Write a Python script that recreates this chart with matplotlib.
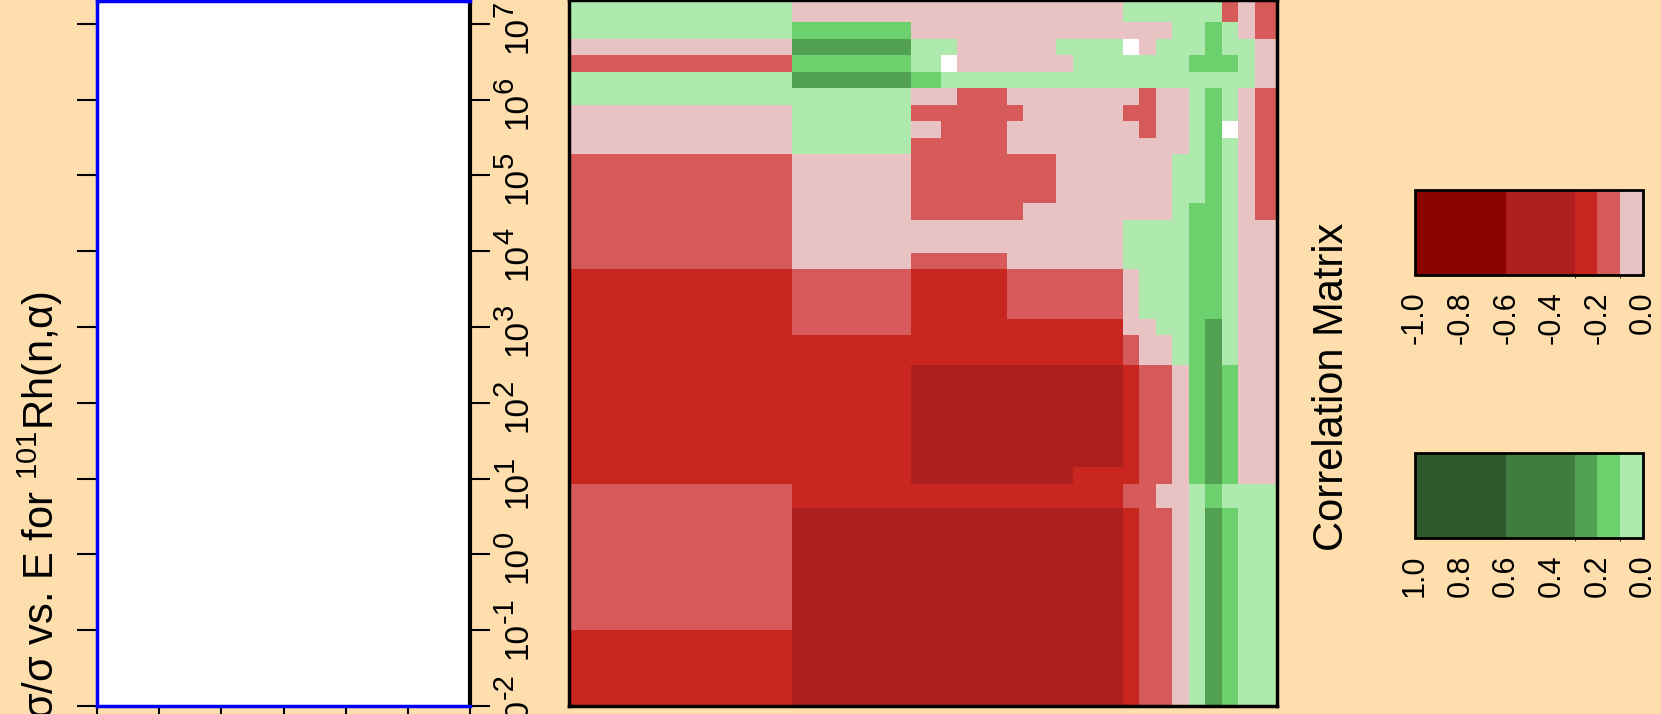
import numpy as np
import matplotlib.pyplot as plt
from matplotlib.colors import ListedColormap, BoundaryNorm
from matplotlib.cm import ScalarMappable
from matplotlib.ticker import NullLocator
from matplotlib.transforms import blended_transform_factory, offset_copy

plt.rcParams['font.family'] = ['Liberation Sans', 'DejaVu Sans']
plt.rcParams['mathtext.fontset'] = 'custom'
plt.rcParams['mathtext.rm'] = 'Liberation Sans'
plt.rcParams['mathtext.it'] = 'Liberation Sans:italic'
plt.rcParams['mathtext.bf'] = 'Liberation Sans:bold'

# group boundaries in eV (same structure on both axes)
energy_edges = [1e-2, 0.1, 4.0, 8.4, 13.9, 310, 768, 1.26e3, 2.08e3, 3.43e3,
                5.65e3, 9.31e3, 1.535e4, 2.53e4, 4.18e4, 6.89e4, 1.135e5,
                1.87e5, 3.08e5, 5.09e5, 8.39e5, 1.38e6, 2.28e6, 3.77e6,
                6.21e6, 1.02e7, 2.0e7]

# correlation class of each cell, one string per row (low -> high energy),
# one letter per column (low -> high energy)
corr_class = {'a': -0.45, 'b': -0.25, 'c': -0.15, 'd': -0.05,
              'e': 0.05, 'f': 0.15, 'g': 0.25, 'w': np.nan}
r7 = "b"*3 + "cc" + "b"*5 + "c"*7 + "d" + "eee" + "ffe" + "dd"
r11 = "c"*3 + "d"*14 + "eeee" + "ffe" + "dd"
r14 = "c"*3 + "dd" + "c"*8 + "d"*7 + "ee" + "fe" + "dc"
corr_rows = [
    "b"*3 + "a"*14 + "b" + "cc" + "d" + "e" + "g" + "f" + "ee",
    "c"*3 + "a"*14 + "b" + "cc" + "d" + "e" + "g" + "f" + "ee",
    "c"*3 + "b"*14 + "cc" + "dd" + "e" + "f" + "eee",
    "b"*5 + "a"*9 + "b"*4 + "cc" + "d" + "fgf" + "dd",
    "b"*5 + "a"*12 + "b" + "cc" + "d" + "fgf" + "dd",
    "b"*17 + "c" + "dd" + "efge" + "dd",
    "b"*3 + "cc" + "b"*12 + "dd" + "ee" + "fge" + "dd",
    r7, r7, r7,
    "c"*3 + "dd" + "c"*5 + "d"*7 + "eeee" + "ffe" + "dd",
    r11, r11,
    "c"*3 + "dd" + "c"*6 + "d"*9 + "e" + "ffe" + "dc",
    r14, r14, r14,
    "d"*3 + "ee" + "c"*5 + "d"*11 + "efe" + "dc",
    "d"*3 + "ee" + "d" + "c"*4 + "d"*8 + "c" + "dd" + "efw" + "dc",
    "d"*3 + "ee" + "c"*6 + "d"*6 + "cc" + "dd" + "efe" + "dc",
    "e"*5 + "dd" + "ccc" + "d"*8 + "c" + "dd" + "efe" + "dc",
    "eee" + "gg" + "f" + "e"*19 + "d",
    "ccc" + "ff" + "ew" + "d"*7 + "e"*7 + "fff" + "ed",
    "ddd" + "gg" + "ee" + "d"*6 + "eeee" + "wd" + "eee" + "f" + "ee" + "d",
    "eee" + "ff" + "d"*15 + "ee" + "fe" + "dc",
    "eee" + "d"*14 + "e"*6 + "cdc",
]

red_bounds = [-1.0, -0.6, -0.3, -0.2, -0.1, 0.0]
red_colors = ['#8B0000', '#AD1F1F', '#C8261F', '#D75A5A', '#E9C3C3']
green_bounds = [0.0, 0.1, 0.2, 0.3, 0.6, 1.0]
green_colors = ['#AEEAAE', '#6CD06C', '#52A052', '#3F7D3F', '#2D5A2D']
red_ticks = [-1.0, -0.8, -0.6, -0.4, -0.2, 0.0]
green_ticks = [1.0, 0.8, 0.6, 0.4, 0.2, 0.0]
decades = list(range(-2, 8))

bg = '#FFDEAD'
W, H = 1661, 714

matrix = np.array([[corr_class[ch] for ch in row] for row in corr_rows])

fig = plt.figure(figsize=(W / 100, H / 100), dpi=100, facecolor=bg)

# left panel: uncertainty vs energy (empty here)
ax0 = fig.add_axes([97 / W, (H - 706) / H, 373 / W, 705 / H])
ax0.set_facecolor('white')
ax0.set_yscale('log')
ax0.set_ylim(1e-2, 2e7)
ax0.set_xlim(0, 30)
ax0.set_xticks(np.arange(0, 31, 5))
ax0.set_yticks([10.0 ** k for k in decades])
ax0.yaxis.set_minor_locator(NullLocator())
for side in ['left', 'top', 'bottom']:
    ax0.spines[side].set_color('#0000FF')
    ax0.spines[side].set_linewidth(2.5)
ax0.spines['right'].set_color('black')
ax0.spines['right'].set_linewidth(3)
ax0.tick_params(axis='y', which='major', left=True, right=True,
                labelleft=False, labelright=False, direction='out',
                length=14.4, width=1.5)
ax0.tick_params(axis='x', direction='out', length=14.4, width=1.5,
                labelbottom=False)

# decade labels "10" + raised exponent, rotated like the reference
trans = blended_transform_factory(fig.transFigure, ax0.transData)
for k in decades:
    ax0.text(502.5 / W, 10.0 ** k, "10", rotation=90, ha='left', va='bottom',
             fontsize=24, clip_on=False,
             transform=offset_copy(trans, fig=fig, y=-29, units='dots'))
    ax0.text(491 / W, 10.0 ** k, str(k), rotation=90, ha='left', va='bottom',
             fontsize=21, clip_on=False,
             transform=offset_copy(trans, fig=fig, y=7, units='dots'))

fig.text(40 / W, 1 - 291 / H, "δσ/σ vs. E for $^{101}$Rh(n,α)",
         rotation=90, ha='center', va='top', fontsize=30)

# correlation matrix
all_bounds = red_bounds + green_bounds[1:]
cmap = ListedColormap(red_colors + green_colors)
norm = BoundaryNorm(all_bounds, cmap.N)
ax1 = fig.add_axes([569 / W, (H - 706) / H, 708 / W, 706 / H])
ax1.set_facecolor('white')
ax1.pcolormesh(energy_edges, energy_edges, matrix, cmap=cmap, norm=norm)
ax1.set_xscale('log')
ax1.set_yscale('log')
ax1.set_xlim(1e-2, 2e7)
ax1.set_ylim(1e-2, 2e7)
ax1.set_xticks([])
ax1.set_yticks([])
ax1.xaxis.set_minor_locator(NullLocator())
ax1.yaxis.set_minor_locator(NullLocator())
for side in ax1.spines.values():
    side.set_linewidth(2.5)

# legends
fig.text(1332 / W, 1 - 387 / H, "Correlation Matrix", rotation=90,
         ha='center', va='center', fontsize=30)

cax_r = fig.add_axes([1415 / W, (H - 275) / H, 228 / W, 85 / H])
sm_r = ScalarMappable(norm=BoundaryNorm(red_bounds, 5), cmap=ListedColormap(red_colors))
cb_r = fig.colorbar(sm_r, cax=cax_r, orientation='horizontal',
                    spacing='proportional', ticks=red_ticks)
cb_r.outline.set_linewidth(2)
cax_r.set_xticklabels(["%.1f" % t for t in red_ticks], rotation=90)
cax_r.tick_params(length=0, labelsize=22, pad=12)

cax_g = fig.add_axes([1415 / W, (H - 538) / H, 228 / W, 85 / H])
sm_g = ScalarMappable(norm=BoundaryNorm(green_bounds, 5), cmap=ListedColormap(green_colors))
cb_g = fig.colorbar(sm_g, cax=cax_g, orientation='horizontal',
                    spacing='proportional', ticks=green_ticks)
cb_g.outline.set_linewidth(2)
cax_g.invert_xaxis()
cax_g.set_xticklabels(["%.1f" % t for t in green_ticks], rotation=90)
cax_g.tick_params(length=0, labelsize=22, pad=12)

fig.savefig("out.png", dpi=100, facecolor=bg)
